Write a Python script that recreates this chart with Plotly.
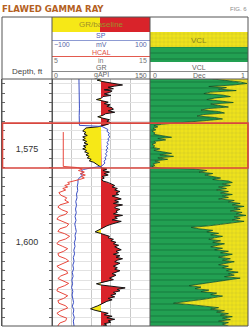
import numpy as np
import plotly.graph_objects as go

# ---------------- data ----------------
TOP, BOT = 1556.2, 1622.3
GR_BASE = 75
BOX_TOP, BOX_BOT = 1568.0, 1580.0
DEPTH_LABELS = [1575, 1600]

GR_DEPTH = [1556.2, 1556.5, 1556.9, 1557.3, 1557.8, 1558.1, 1558.4, 1558.8, 1559.1, 1559.4,
            1559.8, 1560.2, 1560.6, 1560.9, 1561.3, 1561.7, 1562.0, 1562.4, 1562.8, 1563.1,
            1563.5, 1563.9, 1564.3, 1564.7, 1565.1, 1565.5, 1565.9, 1566.3, 1566.7, 1567.1,
            1567.5, 1567.9, 1568.3, 1568.7, 1569.0,
            1569.3, 1569.7, 1570.1, 1570.5, 1570.9, 1571.3, 1571.7, 1572.1, 1572.5, 1572.9,
            1573.3, 1573.7, 1574.1, 1574.5, 1574.9, 1575.3, 1575.7, 1576.1, 1576.5, 1576.9,
            1577.3, 1577.7, 1578.1, 1578.5, 1578.9, 1579.3, 1579.7, 1580.0,
            1580.3, 1580.7, 1581.1, 1581.5, 1581.9, 1582.3, 1582.7, 1583.1, 1583.5, 1583.9,
            1584.3, 1584.7, 1585.1, 1585.5, 1585.9, 1586.3, 1586.7, 1587.1, 1587.5, 1587.9,
            1588.3, 1588.7, 1589.1, 1589.5, 1589.9, 1590.3, 1590.7, 1591.1, 1591.5, 1591.9,
            1592.3, 1592.7, 1593.1, 1593.5, 1593.9, 1594.3, 1594.7, 1595.1, 1595.5, 1595.9,
            1596.3, 1596.7, 1597.1, 1597.5, 1597.9, 1598.3, 1598.7, 1599.1, 1599.5, 1599.9,
            1600.3, 1600.7, 1601.1, 1601.5, 1601.9, 1602.3, 1602.7, 1603.1, 1603.5, 1603.9,
            1604.3, 1604.7, 1605.1, 1605.5, 1605.9, 1606.3, 1606.7, 1607.1, 1607.5, 1607.9,
            1608.3, 1608.7, 1609.1, 1609.5, 1609.9, 1610.3, 1610.7, 1611.0, 1611.3, 1611.7,
            1612.1, 1612.5, 1612.9, 1613.3, 1613.7, 1614.1, 1614.5, 1614.9, 1615.3, 1615.7,
            1616.1, 1616.5, 1616.9, 1617.3, 1617.7, 1618.1, 1618.5, 1618.9, 1619.3, 1619.7,
            1620.1, 1620.5, 1620.9, 1621.3, 1621.7, 1622.1, 1622.3]
GR_API = [74, 69, 78, 92, 108, 96, 86, 94, 80, 92,
          88, 80, 90, 78, 76, 68, 77, 86, 80, 89,
          84, 92, 94, 86, 96, 82, 78, 70, 78, 88,
          84, 90, 86, 78, 70,
          52, 50, 47, 52, 49, 54, 47, 51, 47, 53,
          49, 55, 48, 52, 47, 53, 50, 56, 52, 57,
          54, 60, 57, 64, 68, 71, 74, 76,
          84, 78, 88, 80, 86, 77, 80, 76, 78, 86,
          90, 96, 92, 100, 96, 104, 98, 102, 92, 100,
          106, 96, 102, 94, 108, 98, 96, 104, 98, 100,
          94, 108, 96, 100, 92, 106, 96, 90, 84, 80,
          76, 72, 66, 74, 80, 88, 86, 94, 90, 98,
          94, 102, 96, 100, 106, 98, 102, 94, 104, 98,
          108, 100, 96, 104, 98, 94, 100, 96, 104, 96,
          92, 98, 92, 88, 94, 84, 78, 68, 74, 92,
          112, 100, 104, 94, 98, 90, 96, 86, 92, 84,
          80, 76, 70, 64, 59, 66, 74, 86, 80, 92,
          84, 96, 86, 90, 80, 84, 78]

SP_DEPTH = [1556.2, 1558.0, 1560.0, 1562.0, 1564.0, 1566.0, 1568.6, 1568.9, 1569.2, 1569.7,
            1570.2, 1570.7, 1571.2, 1571.7, 1572.2, 1572.7, 1573.2, 1573.7, 1574.2, 1574.7,
            1575.2, 1575.7, 1576.2, 1576.7, 1577.2, 1577.7, 1578.2, 1578.7, 1579.2, 1579.6,
            1580.0, 1580.4, 1580.8, 1581.2, 1581.6, 1582.0, 1582.6, 1583.2, 1584.0, 1585.0,
            1586.0, 1587.0, 1588.0, 1589.0, 1590.0, 1591.0, 1592.0, 1593.0, 1594.0, 1595.0,
            1596.0, 1597.0, 1598.0, 1599.0, 1600.0, 1601.0, 1602.0, 1603.0, 1604.0, 1605.0,
            1606.0, 1607.0, 1608.0, 1609.0, 1610.0, 1611.0, 1612.0, 1613.0, 1614.0, 1615.0,
            1616.0, 1617.0, 1618.0, 1619.0, 1620.0, 1621.0, 1622.3]
SP_MV = [-45, -44.5, -45, -44.5, -44, -44.5, -44, 2, 8, 14,
         12, 17, 15, 18, 14, 16, 12, 15, 11, 14,
         10, 13, 9, 12, 8, 10, 6, 8, 4, 0,
         -20, -36, -40, -35, -42, -38, -44, -47, -47, -48.5,
         -47.5, -50, -49, -51.5, -50, -52, -50.5, -53, -51, -53.5,
         -52, -50.5, -53, -52, -54.5, -53, -55.5, -54, -56.5, -55,
         -57.5, -56, -58.5, -57, -59.5, -58, -60, -57.5, -59, -58,
         -56, -58.5, -55.5, -57, -54.5, -56.5, -55]

HCAL_DEPTH = [1570.4, 1579.6, 1579.9, 1580.3, 1580.7, 1581.1, 1581.5, 1581.9, 1582.3, 1582.7,
              1583.1, 1583.5, 1583.9, 1584.3, 1584.7, 1585.1, 1585.5, 1585.9, 1586.6, 1587.3,
              1588.0, 1588.6, 1589.2, 1589.9, 1590.5, 1591.2, 1591.8, 1592.4, 1593.0, 1593.7,
              1594.4, 1595.0, 1595.7, 1596.3, 1597.0, 1597.6, 1598.3, 1599.0, 1599.6, 1600.3,
              1601.0, 1601.6, 1602.3, 1602.9, 1603.6, 1604.3, 1604.9, 1605.6, 1606.3, 1606.9,
              1607.6, 1608.2, 1608.9, 1609.6, 1610.2, 1610.9, 1611.5, 1612.2, 1612.9, 1613.5,
              1614.2, 1614.9, 1615.5, 1616.2, 1616.9, 1617.5, 1618.2, 1618.9, 1619.5, 1620.2,
              1620.9, 1621.5, 1622.2, 1622.3]
HCAL_IN = [6.15, 6.15, 7.6, 8.1, 7.7, 8.3, 7.9, 8.4, 8.0, 8.3,
           7.8, 7.2, 6.6, 6.8, 6.3, 6.6, 6.1, 6.4, 5.7, 5.9,
           6.5, 6.3, 6.7, 5.8, 5.6, 6.0, 6.6, 6.4, 5.7, 5.5,
           6.2, 6.7, 6.5, 5.8, 5.6, 6.3, 6.8, 6.4, 5.7, 5.5,
           6.1, 6.6, 6.2, 5.6, 5.7, 6.4, 6.7, 6.0, 5.5, 5.8,
           6.5, 6.6, 5.9, 5.6, 6.2, 6.7, 6.3, 5.6, 5.5, 6.1,
           6.6, 6.2, 5.6, 5.7, 6.4, 6.6, 5.9, 5.5, 5.8, 6.5,
           6.4, 5.8, 5.6, 5.7]

VCL_DEPTH = [1556.2, 1556.6, 1557.0, 1557.4, 1557.8, 1558.2, 1558.5, 1558.9, 1559.3, 1559.7,
             1560.1, 1560.5, 1560.9, 1561.3, 1561.7, 1562.1, 1562.5, 1562.9, 1563.3, 1563.7,
             1564.1, 1564.5, 1564.9, 1565.3, 1565.7, 1566.1, 1566.5, 1566.9, 1567.3, 1567.7,
             1568.0, 1568.3, 1568.7,
             1569.0, 1569.4, 1569.8, 1570.2, 1570.6, 1571.0, 1571.4, 1571.8, 1572.1, 1572.5,
             1572.9, 1573.3, 1573.7, 1574.1, 1574.5, 1574.9, 1575.3, 1575.7, 1576.1, 1576.5,
             1576.9, 1577.3, 1577.7, 1578.1, 1578.5, 1578.9, 1579.3, 1579.7, 1580.0,
             1580.3, 1580.7, 1581.1, 1581.5, 1581.9, 1582.3, 1582.7, 1583.1, 1583.5, 1583.9,
             1584.3, 1584.7, 1585.1, 1585.5, 1585.9, 1586.3, 1586.7, 1587.1, 1587.5, 1587.9,
             1588.3, 1588.7, 1589.1, 1589.5, 1589.9, 1590.3, 1590.7, 1591.1, 1591.5, 1591.9,
             1592.3, 1592.7, 1593.1, 1593.5, 1593.9, 1594.3, 1594.7, 1595.1, 1595.5, 1595.9,
             1596.3, 1596.7, 1597.1, 1597.5, 1597.9, 1598.3, 1598.7, 1599.1, 1599.5, 1599.9,
             1600.3, 1600.7, 1601.1, 1601.5, 1601.9, 1602.3, 1602.7, 1603.1, 1603.5, 1603.9,
             1604.3, 1604.7, 1605.1, 1605.5, 1605.9, 1606.3, 1606.7, 1607.1, 1607.5, 1607.9,
             1608.3, 1608.7, 1609.1, 1609.5, 1609.9, 1610.3, 1610.7, 1611.1, 1611.5, 1611.9,
             1612.3, 1612.7, 1613.1, 1613.5, 1613.9, 1614.3, 1614.7, 1615.1, 1615.5, 1615.9,
             1616.2, 1616.6, 1617.0, 1617.4, 1617.8, 1618.2, 1618.6, 1619.0, 1619.4, 1619.8,
             1620.2, 1620.6, 1621.0, 1621.4, 1621.8, 1622.3]
VCL_DEC = [0.64, 0.80, 0.92, 0.99, 0.85, 0.60, 0.78, 0.70, 0.88, 0.62,
           0.55, 0.74, 0.82, 0.66, 0.58, 0.72, 0.85, 0.62, 0.70, 0.80,
           0.60, 0.52, 0.70, 0.76, 0.55, 0.48, 0.66, 0.74, 0.58, 0.40,
           0.30, 0.12, 0.04,
           0.08, 0.03, 0.06, 0.02, 0.05, 0.04, 0.12, 0.22, 0.08, 0.16,
           0.04, 0.06, 0.02, 0.05, 0.03, 0.10, 0.04, 0.14, 0.22, 0.10,
           0.24, 0.08, 0.18, 0.05, 0.10, 0.03, 0.05, 0.02, 0.10,
           0.45, 0.58, 0.50, 0.64, 0.56, 0.66, 0.72, 0.64, 0.80, 0.84,
           0.74, 0.82, 0.70, 0.78, 0.68, 0.80, 0.72, 0.84, 0.74, 0.80,
           0.70, 0.86, 0.80, 0.92, 0.84, 0.96, 0.86, 0.92, 0.82, 0.94,
           0.88, 0.98, 0.86, 0.92, 0.84, 0.96, 0.80, 0.72, 0.60, 0.42,
           0.50, 0.64, 0.58, 0.70, 0.62, 0.74, 0.66, 0.60, 0.72, 0.64,
           0.76, 0.68, 0.62, 0.74, 0.66, 0.80, 0.72, 0.84, 0.76, 0.70,
           0.82, 0.74, 0.86, 0.78, 0.70, 0.80, 0.74, 0.84, 0.78, 0.90,
           0.80, 0.86, 0.76, 0.92, 0.82, 0.72, 0.60, 0.48, 0.40, 0.52,
           0.46, 0.60, 0.52, 0.68, 0.62, 0.74, 0.66, 0.56, 0.44, 0.30,
           0.24, 0.42, 0.58, 0.70, 0.62, 0.76, 0.68, 0.80, 0.72, 0.84,
           0.74, 0.82, 0.70, 0.80, 0.74, 0.80]

# ---------------- helpers ----------------
W, H = 250, 328
def px(x):
    return x / W
def py(y):
    return 1 - y / H

FONT = "Liberation Sans, Arial, sans-serif"
RED = "#d9232a"
YEL = "#f6e817"
GREEN = "#22a052"
VYEL = "#eee21c"
GREEN_PAT = dict(shape="-", bgcolor=GREEN, fgcolor="#0d5f2d", size=6, solidity=0.2)
YEL_PAT = dict(shape="+", bgcolor=VYEL, fgcolor="#a09c3c", size=4, solidity=0.18)


def split_at_base(depth, val, base):
    """insert the points where the curve crosses the baseline"""
    d_out, v_out = [depth[0]], [val[0]]
    for i in range(1, len(depth)):
        v0, v1 = val[i - 1] - base, val[i] - base
        if v0 * v1 < 0:
            t = v0 / (v0 - v1)
            d_out.append(depth[i - 1] + t * (depth[i] - depth[i - 1]))
            v_out.append(base)
        d_out.append(depth[i])
        v_out.append(val[i])
    return np.array(d_out), np.array(v_out)


fig = go.Figure()

# ---- GR fill (track 1) ----
gd, gv = split_at_base(GR_DEPTH, GR_API, GR_BASE)
red_x = np.maximum(gv, GR_BASE)
yel_x = np.minimum(gv, GR_BASE)
for xs, col in ((red_x, RED), (yel_x, YEL)):
    fig.add_trace(go.Scatter(
        x=[GR_BASE] + list(xs) + [GR_BASE], y=[gd[0]] + list(gd) + [gd[-1]],
        mode="lines", line=dict(width=0), fill="toself", fillcolor=col,
        xaxis="x", yaxis="y", hoverinfo="skip"))
fig.add_trace(go.Scatter(x=GR_API, y=GR_DEPTH, mode="lines",
                         line=dict(color="#111111", width=1), xaxis="x", yaxis="y"))
# ---- SP ----
fig.add_trace(go.Scatter(x=SP_MV, y=SP_DEPTH, mode="lines",
                         line=dict(color="#3b4fc4", width=1), xaxis="x2", yaxis="y"))
# ---- HCAL ----
fig.add_trace(go.Scatter(x=HCAL_IN, y=HCAL_DEPTH, mode="lines",
                         line=dict(color="#e8473c", width=1), xaxis="x3", yaxis="y"))

# ---- VCL (track 2) ----
vd = list(VCL_DEPTH)
fig.add_trace(go.Scatter(
    x=[0] + list(VCL_DEC) + [0], y=[vd[0]] + vd + [vd[-1]], mode="lines",
    line=dict(width=0), fill="toself", fillcolor=GREEN, fillpattern=GREEN_PAT,
    xaxis="x4", yaxis="y", hoverinfo="skip"))
fig.add_trace(go.Scatter(
    x=[1] + list(VCL_DEC) + [1], y=[vd[0]] + vd + [vd[-1]], mode="lines",
    line=dict(width=0), fill="toself", fillcolor=VYEL, fillpattern=YEL_PAT,
    xaxis="x4", yaxis="y", hoverinfo="skip"))
fig.add_trace(go.Scatter(x=VCL_DEC, y=VCL_DEPTH, mode="lines",
                         line=dict(color="#0e4f27", width=0.8), xaxis="x4", yaxis="y"))

# ---- depth labels ----
fig.add_trace(go.Scatter(x=[0.5] * len(DEPTH_LABELS), y=DEPTH_LABELS, mode="text",
                         text=[f"{d:,}" for d in DEPTH_LABELS],
                         textfont=dict(family=FONT, size=9, color="#333333"),
                         xaxis="x5", yaxis="y2", hoverinfo="skip"))

# ---- header VCL swatches ----
fig.add_trace(go.Scatter(x=[0, 1, 1, 0, 0], y=[1, 1, 2, 2, 1], mode="lines", line=dict(width=0),
                         fill="toself", fillcolor=VYEL, fillpattern=YEL_PAT,
                         xaxis="x6", yaxis="y3", hoverinfo="skip"))
fig.add_trace(go.Scatter(x=[0, 1, 1, 0, 0], y=[0, 0, 1, 1, 0], mode="lines", line=dict(width=0),
                         fill="toself", fillcolor=GREEN, fillpattern=GREEN_PAT,
                         xaxis="x6", yaxis="y3", hoverinfo="skip"))

ydom = [py(326), py(79)]
fig.update_layout(
    width=W, height=H, margin=dict(l=0, r=0, t=0, b=0),
    paper_bgcolor="white", plot_bgcolor="rgba(0,0,0,0)", showlegend=False,
    xaxis=dict(domain=[px(52), px(150)], range=[0, 150], anchor="y", showgrid=True,
               tick0=0, dtick=30, gridcolor="#c9c9c9", gridwidth=1, showticklabels=False,
               zeroline=False, ticks="", showline=False),
    yaxis=dict(domain=ydom, range=[BOT, TOP], anchor="x", showgrid=True, tick0=1550, dtick=2.5,
               gridcolor="#e2e2e2", gridwidth=1, showticklabels=False, zeroline=False, ticks=""),
    xaxis2=dict(overlaying="x", range=[-100, 100], visible=False, anchor="y"),
    xaxis3=dict(overlaying="x", range=[5, 15], visible=False, anchor="y"),
    xaxis4=dict(domain=[px(150), px(248)], range=[0, 1], anchor="y", visible=False),
    xaxis5=dict(domain=[px(2), px(52)], range=[0, 1], anchor="y2", visible=False),
    yaxis2=dict(domain=ydom, range=[BOT, TOP], anchor="x5", showline=True, linecolor="#555555",
                linewidth=1, mirror="ticks", ticks="inside", ticklen=3, tickcolor="#666666",
                tickwidth=1, tick0=1550, dtick=2.5, showgrid=False, showticklabels=False,
                zeroline=False),
    xaxis6=dict(domain=[px(150), px(248)], range=[0, 1], anchor="y3", visible=False),
    yaxis3=dict(domain=[py(62), py(32)], range=[0, 2], anchor="x6", visible=False),
)

shapes = []
# GR/baseline header bar
shapes.append(dict(type="rect", xref="paper", yref="paper", x0=px(52), x1=px(100), y0=py(32), y1=py(17),
                   fillcolor=YEL, line=dict(width=0)))
shapes.append(dict(type="rect", xref="paper", yref="paper", x0=px(100), x1=px(150), y0=py(32), y1=py(17),
                   fillcolor=RED, line=dict(width=0)))
# header scale lines
for y, x0, x1, col in ((40.5, 52, 150, "#8d9bd3"), (56.5, 52, 150, "#e35a4e"),
                       (71.5, 52, 150, "#8a8a8a"), (71.5, 150, 248, "#8a8a8a")):
    shapes.append(dict(type="line", xref="paper", yref="paper", x0=px(x0), x1=px(x1), y0=py(y), y1=py(y),
                       line=dict(color=col, width=1)))
# frame
shapes.append(dict(type="rect", xref="paper", yref="paper", x0=px(2), x1=px(248), y0=py(326), y1=py(17),
                   line=dict(color="#555555", width=1)))
for x in (52, 150):
    shapes.append(dict(type="line", xref="paper", yref="paper", x0=px(x), x1=px(x), y0=py(326), y1=py(17),
                       line=dict(color="#555555", width=1)))
shapes.append(dict(type="line", xref="paper", yref="paper", x0=px(2), x1=px(248), y0=py(79), y1=py(79),
                   line=dict(color="#555555", width=1)))
# highlighted interval
shapes.append(dict(type="rect", xref="paper", yref="y", x0=px(2.5), x1=px(248), y0=BOX_TOP, y1=BOX_BOT,
                   line=dict(color="#d8463e", width=1.6)))
fig.update_layout(shapes=shapes)

anns = []
def ann(text, x, y, size=7, color="#555555", xanchor="center", family=FONT):
    anns.append(dict(text=text, x=px(x), y=py(y), xref="paper", yref="paper", showarrow=False,
                     xanchor=xanchor, yanchor="middle", font=dict(family=family, size=size, color=color),
                     borderpad=0))

ann("<b>FLAWED GAMMA RAY</b>", 1, 8, size=9.5, color="#b4611f", xanchor="left",
    family="Liberation Sans Narrow, DejaVu Sans Condensed, Arial Narrow, sans-serif")
ann("FIG. 6", 248, 9, size=6, color="#8a8a8a", xanchor="right")
ann("GR/baseline", 101, 24.5, size=8, color="#a08f2a")
ann("SP", 101, 35.8, color="#4a5bb8")
ann("\u2212100", 53, 44.2, color="#5a68a8", xanchor="left")
ann("mV", 101, 44.2, color="#5a68a8")
ann("100", 148, 44.2, color="#5a68a8", xanchor="right")
ann("HCAL", 101, 52.3, color="#e0503f")
ann("5", 53, 60.6, color="#777777", xanchor="left")
ann("in", 101, 60.6, color="#777777")
ann("15", 148, 60.6, color="#777777", xanchor="right")
ann("GR", 101, 67.5, color="#666666")
ann("0", 53, 75.3, color="#666666", xanchor="left")
ann("gAPI", 101, 75.3, color="#666666")
ann("150", 148, 75.3, color="#666666", xanchor="right")
ann("VCL", 199, 40, size=8, color="#8a8420")
ann("VCL", 199, 67.5, color="#666666")
ann("0", 152, 75.3, color="#666666", xanchor="left")
ann("Dec", 199, 75.3, color="#666666")
ann("1", 246, 75.3, color="#666666", xanchor="right")
ann("Depth, ft", 27, 72, size=8, color="#444444")
fig.update_layout(annotations=anns)

fig.write_html("out.html")
